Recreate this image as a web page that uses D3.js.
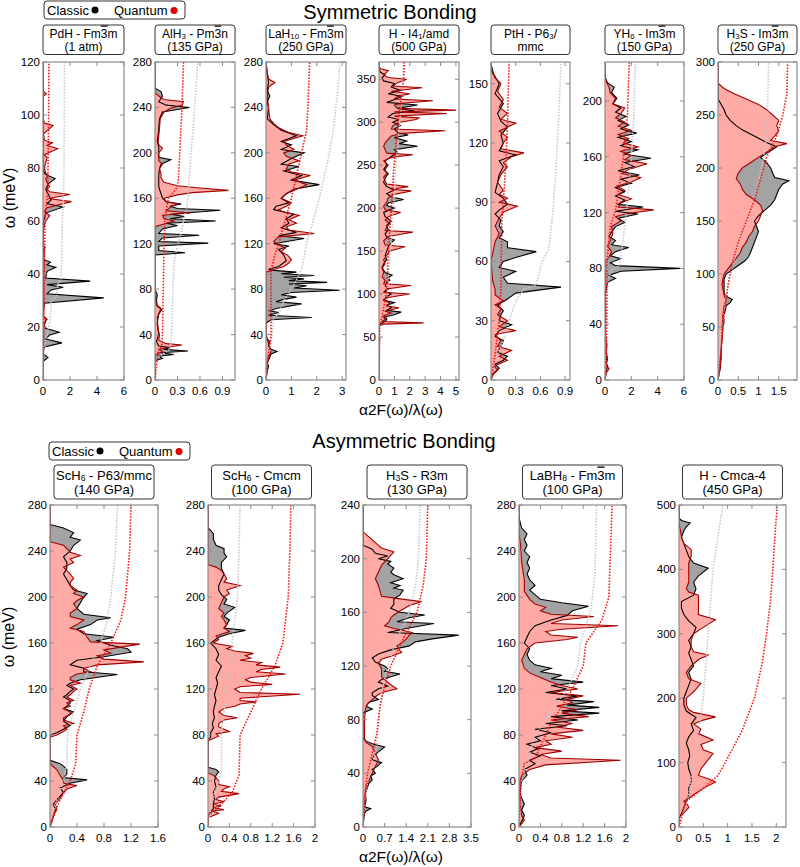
<!DOCTYPE html>
<html><head><meta charset="utf-8">
<script src="https://cdn.jsdelivr.net/npm/d3@7"></script>
<style>body{margin:0;background:#fff}</style>
</head><body>
<script>
// ---------- symmetric bonding (top row) ----------
var pdhClassic = [[0,0],[7,0],[8.5,0.37],[10,0],[12.5,0.1],[14,1.4],[15.5,0.2],[17,0.5],[18,1.2],[19.5,0.2],[21,0],[23,0.3],[24,0],[29,0.1],[31,4.5],[32.5,0.3],[34,0.6],[35,1.5],[36,0.3],[37.3,3.5],[38.5,0.2],[41,0.3],[42.5,0.95],[43.5,0.3],[44.5,0.55],[45.5,0],[49.5,0],[50,0.15],[51,0],[57,0],[58,0.1],[59,0],[63,0.2],[65.3,1.5],[66.5,0.3],[68,0.6],[70,0.4],[72,0.2],[74,0.4],[76,0.9],[77.5,0.2],[79,0],[120,0]];
var pdhQuantum = [[0,0],[20,0.05],[23,0.25],[24,0.05],[40,0.05],[50,0.1],[51,0],[58,0.05],[60,0.2],[62,0.5],[63.5,0.1],[65,0.3],[67.3,2.1],[68.5,0.4],[70,2.0],[71,0.5],[72,0.3],[73,0.5],[74.5,0.3],[76,0.2],[77.3,0.4],[78,0.2],[80,0.1],[84,0.3],[85,0.1],[87.3,1.1],[88.5,0.3],[89.5,0.7],[90.5,0.1],[93,0.05],[96,0.75],[97,0.1],[99,0],[107,0],[108,0.25],[109,0],[120,0]];
var pdhLamC = [[0,0],[8,0.03],[14,0.15],[18,0.35],[24,0.55],[30,0.6],[31.5,1.0],[36,1.1],[38,1.3],[44,1.38],[60,1.42],[66,1.5],[76,1.55],[120,1.6]];
var pdhLamQ = [[0,0],[20,0.05],[40,0.1],[60,0.15],[64,0.2],[68,0.3],[72,0.35],[90,0.4],[120,0.44]];

var alhClassic = [[0,0],[17,0],[19,0.1],[21,0.05],[22.5,0.25],[24,0.08],[25.5,0.44],[27,0.12],[28.5,0.2],[30,0.05],[34,0.02],[40,0.05],[50,0.03],[58,0.05],[62,0.09],[65,0.03],[70,0.02],[75,0.03],[80,0],[110,0],[112,0.4],[114,0.05],[118,0.05],[120.5,0.71],[122,0.05],[125,0.1],[127.5,0.59],[129,0.05],[133,0.1],[136,0.3],[138,0.15],[140,0.81],[142,0.2],[144,0.4],[146,0.2],[149.5,0.87],[151,0.3],[153,0.2],[155,0.35],[157,0.15],[160,0.1],[170,0.05],[180,0.05],[186,0.06],[190,0.08],[194,0.21],[196,0.05],[205,0.05],[210,0.03],[220,0.05],[230,0.06],[236,0.1],[240,0.46],[242,0.15],[245,0.05],[250,0.1],[254,0.08],[257,0],[280,0]];
var alhQuantum = [[0,0],[22,0],[25,0.1],[27,0.05],[29,0.2],[30.8,0.36],[32,0.15],[35,0.05],[40,0.06],[45,0.04],[55,0.03],[60,0.06],[63,0.08],[66,0.02],[75,0],[135,0],[137,0.1],[140,0.25],[142,0.12],[145,0.1],[147,0.47],[149,0.15],[152,0.2],[155,0.3],[157,0.15],[160,0.12],[163,0.3],[165,0.5],[167,0.98],[169,0.6],[171,0.3],[174,0.12],[178,0.08],[182,0.08],[186,0.06],[190,0.1],[193,0.05],[200,0.05],[204,0.1],[208,0.04],[215,0.05],[222,0.06],[230,0.07],[236,0.12],[239,0.2],[242,0.36],[245,0.38],[247,0.12],[250,0.05],[253,0],[280,0]];
var alhLamC = [[0,0],[18,0.01],[22,0.08],[26,0.18],[30,0.21],[40,0.22],[100,0.25],[110,0.27],[120,0.31],[130,0.35],[140,0.38],[150,0.42],[160,0.44],[200,0.48],[240,0.53],[280,0.57]];
var alhLamQ = [[0,0],[25,0.04],[30,0.09],[40,0.1],[120,0.12],[140,0.13],[150,0.15],[160,0.18],[168,0.28],[175,0.31],[200,0.33],[240,0.36],[280,0.38]];

var lahClassic = [[0,0],[8,0.05],[12,0.1],[15,0.05],[20,0.15],[23,0.2],[25,0.43],[27,0.2],[30,0.1],[34,0.15],[36,0.05],[40,0],[50,0],[53,0.2],[55,1.8],[57,0.1],[59.5,0.5],[61,0.15],[63,0.4],[67,1.4],[69,0.4],[71,0.7],[73,1.2],[75,0.6],[77,1.0],[79,2.9],[81,1.1],[83,1.6],[84.5,0.9],[86,2.4],[87.5,0.9],[89,1.5],[90.5,0.7],[92,1.9],[93.5,0.6],[95,1.2],[96.5,0.3],[97.5,0.1],[100,0.5],[105,0.8],[110,0.7],[115,0.5],[118,0.9],[120,0.3],[124.6,1.5],[127,0.5],[130,1.2],[134,0.6],[138,0.9],[142,0.8],[146,1.1],[150,0.3],[153,0.4],[156,0.9],[160,0.6],[164,0.8],[168,1.1],[172,2.1],[176,1.0],[180,1.4],[184,0.7],[188,1.3],[190,0.6],[195,1.0],[200,1.5],[203,0.6],[207,1.0],[210,0.6],[215,1.2],[220,0.6],[225,0.3],[230,0.05],[240,0.1],[245,0.05],[250,0.15],[255,0.05],[262,0.1],[270,0.05],[280,0]];
var lahQuantum = [[0,0],[10,0.02],[20,0.1],[25,0.2],[28,0.15],[32,0.1],[36,0.05],[40,0],[95,0],[97,0.3],[100,0.7],[103,0.9],[106,1.0],[110,0.85],[113,0.6],[116,0.75],[119,0.5],[122,0.3],[126,0.5],[129,1.9],[132,0.9],[135,0.8],[138,1.2],[141,0.9],[145,1.3],[148,0.7],[150,0.5],[153,0.8],[156,1.0],[160,0.6],[164,0.8],[168,1.2],[172,1.6],[176,1.1],[180,1.75],[183,1.0],[186,0.8],[190,0.9],[193,1.3],[197,0.8],[200,0.7],[203,1.1],[207,0.8],[210,0.7],[215,1.45],[218,0.9],[222,0.5],[226,0.3],[230,0.15],[240,0.1],[250,0.05],[258,0.1],[262,0.35],[265,0.1],[270,0.05],[280,0]];
var lahLamC = [[0,0],[20,0.05],[26,0.15],[40,0.25],[55,0.3],[58,0.5],[70,0.7],[80,1.0],[90,1.25],[97,1.4],[120,1.6],[140,1.85],[160,2.1],[180,2.3],[200,2.5],[220,2.65],[240,2.75],[260,2.85],[280,2.9]];
var lahLamQ = [[0,0],[20,0.07],[30,0.15],[40,0.2],[97,0.2],[110,0.35],[120,0.5],[140,0.75],[160,1.0],[180,1.2],[200,1.4],[220,1.6],[240,1.65],[280,1.72]];

var hiClassic = [[0,0],[45,0],[48,0.05],[50,0],[64,0],[67,0.3],[70,0.5],[73,0.3],[76,1.0],[79,1.45],[81,0.5],[84,0.8],[87,0.5],[90,1.0],[93,0.3],[97,0.5],[100,0.8],[103,0.4],[106,0.6],[110,0.4],[113,0.5],[116,0.7],[119,0.6],[122,0.85],[125,0.4],[128,0.3],[131,0.2],[135,0.3],[140,0.5],[145,0.4],[150,0.5],[155,0.6],[160,0.8],[163,1.0],[166,0.5],[170,0.4],[175,0.6],[180,0.5],[185,0.8],[190,0.4],[195,0.3],[200,1.0],[203,0.5],[206,0.6],[210,1.6],[213,0.8],[217,0.5],[221,1.0],[225,0.5],[230,0.3],[235,0.4],[240,0.6],[245,0.3],[250,0.5],[255,0.4],[260,0.8],[265,1.2],[268,1.0],[272,2.5],[275,1.3],[278,1.8],[282,1.0],[285,1.9],[288,1.2],[292,1.0],[296,1.4],[300,0.9],[303,1.3],[306,0.6],[310,0.9],[313,2.3],[316,1.2],[320,2.5],[323,0.5],[326,1.0],[330,1.5],[333,0.6],[337,1.4],[341,0.8],[345,1.0],[348,0.3],[352,0.2],[355,0.4],[358,0.1],[362,0],[370,0]];
var hiQuantum = [[0,0],[45,0],[47,0.05],[49,0],[63,0],[65,0.3],[66.5,2.9],[68,0.2],[72,0.5],[75,0.3],[78,0.8],[80,0.4],[84,1.3],[86,0.5],[90,0.7],[93,0.3],[96,0.6],[100,2.0],[102,0.3],[106,0.5],[110,2.1],[112,0.3],[116,0.4],[120,0.2],[125,0.3],[130,0.2],[135,0.4],[140,0.3],[145,0.5],[150,0.7],[155,1.7],[157,0.4],[162,0.3],[167,0.6],[172,2.2],[174,0.4],[178,0.5],[182,0.7],[186,0.4],[190,0.6],[195,1.4],[198,0.4],[202,0.3],[207,0.5],[212,0.6],[216,1.0],[220,2.1],[222,0.8],[225,1.9],[228,0.5],[232,0.4],[236,0.3],[240,0.5],[245,0.4],[250,0.6],[255,0.3],[259,0.8],[262,2.2],[264,0.5],[268,0.4],[272,0.3],[276,0.4],[280,0.6],[284,0.8],[287,1.5],[290,4.3],[292,0.8],[296,0.9],[300,1.4],[303,2.4],[305,2.6],[307,1.0],[310,4.4],[312,1.0],[314,5.0],[316,1.2],[320,1.0],[322,1.5],[325,3.5],[327,1.0],[330,1.2],[333,2.0],[336,0.8],[340,2.8],[342,0.9],[346,1.2],[350,1.8],[352,0.6],[355,0.3],[358,0.5],[360,0.6],[362,0.1],[365,0],[370,0]];
var hiLamC = [[0,0],[64,0.02],[80,0.3],[100,0.5],[150,0.75],[200,0.95],[250,1.1],[300,1.35],[350,1.55],[370,1.6]];
var hiLamQ = [[0,0],[64,0.05],[70,0.15],[100,0.48],[150,0.6],[200,0.8],[250,0.98],[300,1.24],[350,1.6],[370,1.65]];

var pthClassic = [[0,0],[3,0.02],[6,0.1],[8,0.05],[10,0.15],[12,0.2],[14,0.08],[17,0.12],[20,0.15],[22,0.05],[25,0.1],[28,0.25],[30,0.1],[33,0.12],[35,0.15],[38,0.08],[41,0.2],[44,0.3],[47,0.85],[49,0.2],[52,0.15],[55,0.3],[57,0.1],[60,0.15],[62,0.3],[65,0.55],[67,0.2],[70,0.2],[72,0.1],[75,0.15],[78,0.1],[81,0.12],[84,0.05],[86,0.1],[89,0.2],[92,0.15],[95,0.05],[100,0.08],[104,0.1],[108,0.15],[111,0.1],[114,0.3],[116,0.1],[120,0.15],[124,0.12],[128,0.2],[131,0.12],[135,0.08],[140,0.15],[145,0.05],[150,0.1],[155,0.03],[160,0]];
var pthQuantum = [[0,0],[3,0.03],[5,0.08],[7,0.04],[10,0.2],[12,0.1],[15,0.25],[17,0.08],[20,0.12],[23,0.05],[25,0.3],[27,0.1],[30,0.2],[33,0.08],[36,0.12],[38,0.05],[40,0.15],[43,0.05],[46,0.05],[50,0.02],[60,0],[70,0.05],[74,0.1],[78,0.05],[82,0.1],[85,0.15],[88,0.32],[90,0.1],[92,0.2],[94,0.1],[96,0.15],[100,0.08],[104,0.12],[108,0.2],[110,0.15],[113,0.25],[115,0.4],[117,0.12],[120,0.15],[123,0.2],[126,0.1],[130,0.3],[132,0.12],[135,0.2],[138,0.1],[142,0.15],[146,0.08],[150,0.12],[153,0.05],[157,0],[161,0]];
var pthLamC = [[0,0],[10,0.05],[20,0.15],[30,0.22],[40,0.3],[46,0.4],[48,0.55],[60,0.62],[66,0.7],[80,0.74],[100,0.78],[130,0.82],[161,0.85]];
var pthLamQ = [[0,0],[10,0.04],[20,0.07],[30,0.1],[45,0.12],[80,0.13],[90,0.15],[110,0.18],[130,0.2],[161,0.22]];

var yhClassic = [[0,0],[5,0.05],[10,0.2],[13,0.05],[16,0.15],[20,0.05],[25,0.1],[30,0.05],[40,0.03],[50,0.05],[60,0],[70,0.2],[73,0.8],[75,0.3],[78,1.2],[80,5.7],[82,0.8],[84,0.4],[87,1.2],[89,0.4],[92,0.8],[95,1.8],[97,0.5],[100,0.8],[103,0.3],[106,0.5],[110,0.8],[113,1.5],[116,1.0],[119,2.5],[121,0.8],[124,2.9],[126,1.0],[129,1.5],[132,0.8],[135,1.5],[138,0.8],[141,2.0],[144,1.2],[147,2.6],[150,1.0],[153,2.2],[156,1.5],[159,3.5],[162,1.4],[165,2.5],[168,1.2],[171,2.0],[174,1.0],[177,2.4],[180,1.2],[183,1.8],[186,1.0],[189,1.6],[192,0.8],[195,1.2],[198,0.6],[202,0.9],[206,0.5],[210,0.7],[213,0.2],[216,0.05],[220,0],[230,0]];
var yhQuantum = [[0,0],[5,0.1],[8,0.3],[11,0.1],[15,0.2],[20,0.1],[25,0.15],[30,0.05],[40,0.02],[60,0],[85,0],[88,0.3],[92,0.5],[96,0.2],[100,0.4],[105,0.6],[110,0.5],[114,1.2],[117,0.8],[119,1.5],[122,3.7],[124,1.0],[127,1.2],[130,2.0],[133,1.0],[136,1.5],[139,0.9],[142,2.0],[145,2.7],[148,1.3],[151,1.8],[155,3.2],[158,1.5],[161,2.0],[164,1.2],[167,2.5],[170,1.4],[173,1.8],[176,1.0],[179,2.0],[182,1.0],[185,1.5],[188,0.8],[191,1.2],[195,1.5],[198,0.6],[202,0.8],[206,0.4],[210,0.3],[214,0.1],[218,0],[230,0]];
var yhLamC = [[0,0],[10,0.05],[30,0.1],[70,0.15],[79,0.5],[82,1.1],[95,1.3],[110,1.5],[130,1.75],[160,2.0],[190,2.2],[230,2.3]];
var yhLamQ = [[0,0],[10,0.08],[30,0.12],[85,0.15],[110,0.4],[122,0.8],[140,1.1],[160,1.4],[190,1.7],[230,1.85]];

var h3sImClassic = [[0,0],[5,0.02],[10,0.05],[20,0.06],[30,0.08],[40,0.1],[50,0.12],[55,0.15],[60,0.12],[65,0.18],[70,0.2],[73,0.3],[76,0.35],[79,0.2],[82,0.15],[90,0.15],[95,0.15],[100,0.2],[104,0.35],[108,0.5],[112,0.65],[116,0.75],[120,0.8],[125,0.85],[130,0.9],[135,0.95],[140,1.0],[145,0.95],[150,0.9],[155,1.0],[160,1.15],[165,1.3],[170,1.4],[175,1.45],[180,1.5],[185,1.6],[188,1.75],[191,1.4],[195,1.35],[200,1.3],[205,1.2],[210,1.05],[215,1.25],[220,1.45],[224,1.2],[228,1.0],[232,0.8],[236,0.6],[240,0.45],[245,0.3],[250,0.2],[255,0.15],[260,0.08],[265,0],[300,0]];
var h3sImQuantum = [[0,0],[10,0.05],[20,0.08],[30,0.08],[40,0.1],[50,0.1],[60,0.12],[70,0.15],[75,0.2],[80,0.15],[90,0.1],[95,0.12],[100,0.15],[105,0.25],[110,0.35],[115,0.45],[120,0.55],[125,0.6],[130,0.7],[135,0.75],[140,0.85],[145,0.9],[150,1.0],[155,1.05],[160,1.1],[165,1.05],[170,0.9],[175,0.7],[180,0.6],[185,0.55],[190,0.45],[195,0.5],[200,0.6],[205,0.8],[210,1.0],[215,1.2],[220,1.4],[223,1.7],[226,1.3],[230,1.4],[235,1.5],[240,1.45],[245,1.5],[250,1.35],[255,1.2],[260,1.0],[265,0.7],[270,0.4],[275,0.15],[280,0],[300,0]];
var h3sImLamC = [[0,0],[40,0.08],[80,0.2],[100,0.3],[120,0.45],[140,0.62],[160,0.8],[180,0.95],[200,1.08],[220,1.17],[250,1.22],[300,1.25]];
var h3sImLamQ = [[0,0],[30,0.08],[60,0.15],[90,0.25],[110,0.35],[130,0.5],[150,0.7],[170,0.9],[190,1.05],[210,1.2],[230,1.45],[250,1.6],[270,1.7],[300,1.72]];

// ---------- asymmetric bonding (bottom row) ----------
var schPClassic = [[0,0],[5,0.02],[10,0.05],[15,0.08],[20,0.05],[25,0.12],[30,0.2],[34,0.15],[38,0.3],[41,0.55],[43,0.2],[46,0.25],[50,0.25],[53,0.2],[55,0.15],[58,0],[80,0],[82,0.1],[85,0.2],[88,0.3],[92,0.2],[96,0.25],[100,0.35],[103,0.2],[105,0.25],[108,0.3],[110,0.3],[113,0.2],[115,0.25],[118,0.3],[120,0.35],[123,0.25],[125,0.3],[128,0.45],[132.6,1.0],[135,0.5],[138,0.5],[141,0.3],[145,0.4],[148,0.8],[152,1.2],[155,1.15],[158,0.9],[162,0.7],[165,0.95],[168,0.5],[172,0.4],[176,0.6],[180,0.7],[182,0.9],[185,0.5],[190,0.4],[195,0.45],[200,0.5],[203,0.55],[206,0.35],[210,0.3],[215,0.25],[220,0.2],[225,0.25],[230,0.25],[235,0.2],[240,0.3],[245,0.35],[249.5,0.45],[252,0.3],[256,0.35],[260,0.2],[263,0],[280,0]];
var schPQuantum = [[0,0],[5,0.03],[10,0.05],[15,0.1],[20,0.08],[25,0.15],[30,0.2],[33,0.25],[36,0.4],[38,0.2],[40,0.2],[45,0.15],[50,0.1],[55,0],[78,0],[80,0.1],[83,0.2],[85,0.25],[88,0.2],[90,0.35],[93,0.2],[95,0.2],[98,0.3],[100,0.3],[103,0.2],[105,0.3],[108,0.25],[110,0.35],[113,0.25],[115,0.3],[118,0.35],[120,0.4],[123,0.3],[125,0.45],[128,0.3],[130,0.3],[133,0.4],[135,0.6],[138,0.5],[141,0.7],[143.6,1.39],[146,0.8],[149,0.7],[151,0.9],[154,0.8],[156,1.0],[159,1.33],[161,0.6],[165,0.55],[170,0.5],[173,0.3],[176,0.4],[180,0.5],[183,0.3],[186,0.3],[190,0.4],[194,0.35],[197,0.4],[200,0.5],[203,0.35],[206,0.4],[210,0.3],[213,0.3],[216,0.35],[220,0.3],[223,0.25],[226,0.2],[230,0.35],[233,0.3],[236,0.45],[239,0.3],[242,0.25],[245,0.2],[248,0],[280,0]];
var schPLamC = [[0,0],[20,0.08],[40,0.2],[55,0.25],[80,0.26],[100,0.35],[120,0.45],[140,0.6],[160,0.75],[180,0.85],[200,0.9],[240,0.97],[280,1.0]];
var schPLamQ = [[0,0],[20,0.12],[40,0.3],[55,0.38],[80,0.4],[100,0.5],[120,0.58],[140,0.7],[160,0.9],[180,1.05],[200,1.12],[240,1.18],[280,1.2]];

var schCClassic = [[0,0],[10,0],[13,0.05],[16,0.1],[20,0.1],[25,0.12],[30,0.1],[35,0.15],[40,0.12],[45,0.15],[48,0.2],[50,0.15],[52,0],[76,0],[78,0.05],[82,0.05],[86,0.1],[90,0.08],[95,0.12],[100,0.1],[105,0.12],[110,0.15],[115,0.12],[120,0.15],[125,0.18],[130,0.15],[135,0.2],[140,0.25],[145,0.15],[150,0.2],[155,0.15],[160,0.05],[165,0.2],[168,0.4],[171,0.7],[173,0.3],[176,0.35],[180,0.4],[183,0.3],[186,0.35],[191,0.5],[194,0.3],[198,0.35],[202,0.25],[206,0.2],[210,0.2],[215,0.25],[220,0.3],[225,0.25],[230,0.25],[235,0.35],[238,0.3],[242,0.3],[245,0.15],[250,0.1],[255,0.1],[258,0.05],[260,0],[280,0]];
var schCQuantum = [[0,0],[8,0],[10,0.1],[12,0.2],[14,0.08],[15,0.3],[17,0.1],[18,0.25],[20,0.1],[22,0.3],[24,0.15],[26,0.2],[29,0.58],[31,0.25],[33,0.3],[35,0.4],[37,0.2],[40,0.2],[43,0.15],[45,0.1],[47,0],[75,0],[77,0.1],[79,0.2],[81,0.15],[83,0.4],[85,0.3],[87,0.2],[90,0.2],[93,0.3],[95,0.55],[97,0.3],[100,0.2],[103,0.3],[105,0.5],[107,0.6],[108.8,0.9],[110,0.6],[112,0.6],[115.5,1.72],[117,0.6],[120,0.5],[122,0.6],[124,1.2],[126,0.8],[128,0.7],[130,0.8],[133,1.45],[135,0.9],[137,1.0],[139,1.35],[141,0.9],[143,1.0],[145,0.6],[147,0.8],[149,0.7],[151,0.85],[153,0.5],[155,0.35],[157,0.45],[160,0.1],[163,0.2],[166,0.15],[170,0.4],[173,0.3],[176,0.35],[180,0.3],[183,0.25],[186,0.3],[190,0.2],[195,0.25],[200,0.3],[203,0.4],[206,0.35],[210,0.6],[213,0.3],[216,0.35],[220,0.3],[223,0.25],[226,0.15],[228,0],[280,0]];
var schCLamC = [[0,0],[15,0.05],[30,0.12],[40,0.2],[50,0.25],[80,0.25],[120,0.35],[160,0.45],[200,0.55],[240,0.58],[280,0.6]];
var schCLamQ = [[0,0],[10,0],[20,0.25],[30,0.45],[45,0.58],[80,0.6],[100,0.8],[120,1.0],[140,1.25],[160,1.4],[200,1.5],[240,1.53],[280,1.55]];

var h3sRClassic = [[0,0],[5,0.02],[10,0.05],[12,0.1],[13.7,0.25],[15,0.05],[20,0.1],[25,0.08],[30,0.15],[33,0.2],[35,0.3],[38,0.25],[40,0.4],[43,0.3],[45,0.45],[48,0.6],[50,0.3],[53,0.35],[56,0.5],[59.7,0.7],[62,0.3],[64,0.1],[66,0],[85,0],[88,0.3],[90,0.1],[93,0.2],[95,0.5],[98,0.3],[100,0.3],[103,0.5],[105,0.8],[108,0.5],[110,0.6],[112,0.9],[114,1.2],[116,0.7],[118,0.8],[120,0.7],[123,0.4],[126,0.3],[129,0.5],[132,0.9],[135,1.5],[138,1.7],[140,2.2],[143,3.1],[145,0.8],[148,1.4],[151.7,2.3],[153,1.1],[156,1.5],[158,2.0],[160,1.2],[163,0.9],[166,1.0],[170,1.0],[173,1.2],[176.6,1.3],[178,1.0],[180,1.2],[182,0.9],[185,1.3],[188,1.0],[190,0.9],[193,1.0],[196,0.8],[198,0.9],[200,0.5],[202,0.8],[204,0.4],[207,0.3],[210,0],[240,0]];
var h3sRQuantum = [[0,0],[10,0.03],[20,0.05],[30,0.1],[35,0.2],[40,0.3],[45,0.4],[50,0.5],[55,0.4],[60,0.3],[63,0.1],[66,0.05],[80,0.05],[88,0.08],[92,0.15],[95,0.3],[98,0.45],[100,0.6],[103,1.1],[106,0.9],[108,0.8],[112,0.6],[115,0.6],[118,0.6],[122,0.5],[125,0.6],[128,1.0],[130,1.25],[133,1.15],[135,1.1],[138,1.3],[140,1.4],[143,1.5],[145,1.6],[148,1.0],[150,0.7],[153,0.85],[156,0.9],[158,1.0],[161,1.2],[165,1.5],[168,1.9],[170,1.2],[172,0.6],[176,0.55],[180,0.5],[185,0.4],[190,0.5],[195,0.6],[200,0.8],[205,1.0],[208,0.6],[212,0.4],[216,0.2],[220,0],[240,0]];
var h3sRLamC = [[0,0],[20,0.05],[40,0.2],[60,0.45],[80,0.5],[100,0.6],[120,0.8],[140,1.1],[160,1.5],[180,1.7],[200,1.8],[240,1.85]];
var h3sRLamQ = [[0,0],[20,0.03],[40,0.15],[60,0.35],[70,0.45],[90,0.55],[100,0.65],[120,0.9],[140,1.3],[160,1.75],[180,1.95],[200,2.05],[240,2.1]];

var labhClassic = [[0,0],[5,0.05],[10,0.1],[15,0.05],[20,0.1],[25,0.05],[30,0.02],[40,0.05],[45,0.15],[50,0.1],[55,0.3],[58,0.2],[62,0.4],[65,0.2],[68,0.35],[72,0.15],[75,0.4],[78,0.3],[82,0.6],[85,0.3],[88,0.9],[90,0.5],[93,1.1],[96,0.6],[99,1.5],[101,0.8],[104,1.5],[106,0.9],[109,1.4],[111,0.7],[114,1.1],[117,0.5],[120,0.9],[123,0.6],[126,1.2],[129,0.6],[132,0.8],[135,0.4],[138,0.6],[141,0.3],[145,0.2],[150,0.15],[155,0.2],[160,0.1],[165,0.15],[170,0.2],[175,0.3],[180,0.6],[184,0.9],[188,1.0],[192,1.3],[195,0.8],[198,0.4],[202,0.3],[206,0.2],[210,0.3],[215,0.2],[220,0.15],[225,0.2],[230,0.15],[235,0.2],[240,0.1],[245,0.15],[250,0.1],[255,0.15],[260,0.05],[265,0.02],[270,0],[280,0]];
var labhQuantum = [[0,0],[3,0.05],[6,0.1],[10,0.05],[20,0.02],[40,0.02],[45,0.05],[50,0.2],[54,0.5],[58,1.9],[60,0.6],[63,0.4],[66,0.8],[69,0.3],[72,0.6],[75,0.5],[78,1.0],[81,0.6],[84,1.2],[87,0.7],[90,1.0],[93,0.6],[96,1.3],[99,0.8],[102,1.1],[105,0.7],[108,1.0],[111,0.9],[114,1.2],[117,0.6],[120,1.1],[123,0.8],[126,0.6],[130,0.4],[134,0.2],[138,0.1],[145,0.05],[150,0.1],[155,0.15],[160,0.3],[163,0.9],[165,1.1],[167,0.6],[170,0.5],[172,0.8],[175,1.85],[177,0.6],[180,0.8],[183,1.4],[185,0.6],[188,0.4],[191,0.5],[194,0.3],[198,0.2],[205,0.1],[215,0.1],[230,0.05],[245,0.03],[255,0],[280,0]];
var labhLamC = [[0,0],[40,0.05],[80,0.3],[100,0.6],[120,0.9],[140,1.1],[160,1.15],[190,1.35],[220,1.42],[280,1.45]];
var labhLamQ = [[0,0],[40,0.03],[55,0.1],[60,0.3],[90,0.6],[120,1.0],[140,1.2],[160,1.25],[180,1.55],[200,1.68],[280,1.74]];

var hcClassic = [[0,0],[15,0],[20,0.05],[30,0.1],[40,0.15],[50,0.2],[60,0.2],[70,0.25],[80,0.25],[90,0.2],[100,0.18],[110,0.22],[120,0.2],[130,0.15],[140,0.2],[150,0.3],[160,0.25],[170,0.35],[180,0.15],[190,0.1],[200,0.1],[210,0.15],[220,0.2],[230,0.25],[240,0.2],[250,0.3],[260,0.25],[270,0.2],[280,0.25],[290,0.2],[300,0.3],[310,0.35],[320,0.2],[330,0.1],[340,0.05],[350,0.05],[360,0.3],[370,0.35],[380,0.3],[390,0.4],[402,0.6],[410,0.3],[420,0.2],[430,0.15],[440,0.1],[450,0.05],[460,0.1],[466,0.15],[472,0.23],[476,0.05],[480,0],[500,0]];
var hcQuantum = [[0,0],[15,0],[22,0.1],[30,0.2],[34,0.18],[40,0.1],[50,0.3],[60,0.5],[70,0.75],[75,0.6],[80,0.4],[90,0.45],[100,0.55],[114,0.7],[120,0.5],[128,0.45],[135,0.7],[145,0.4],[152,0.45],[160,0.3],[166,0.5],[171,0.75],[178,0.3],[182,0.2],[190,0.15],[200,0.15],[210,0.3],[223,0.45],[230,0.2],[240,0.15],[250,0.25],[260,0.4],[267,0.6],[272,0.3],[280,0.25],[290,0.25],[300,0.3],[310,0.5],[322,0.75],[330,0.4],[340,0.4],[350,0.4],[360,0.4],[365,0.2],[370,0.15],[380,0.2],[390,0.2],[400,0.2],[410,0.2],[420,0.25],[431,0.25],[440,0.1],[450,0.05],[460,0.03],[470,0],[500,0]];
var hcLamC = [[0,0],[50,0.2],[100,0.3],[150,0.4],[200,0.5],[250,0.55],[300,0.6],[350,0.65],[400,0.7],[450,0.8],[500,0.9]];
var hcLamQ = [[0,0],[30,0.1],[40,0.15],[60,0.5],[80,0.8],[100,0.95],[150,1.3],[200,1.55],[250,1.7],[300,1.8],[350,1.88],[400,1.93],[450,1.97],[500,2.02]];

// titles, axis ranges, tick labels
var topTitles = [["PdH - Fm~{3}m","(1 atm)"],["AlH_{3} - Pm~{3}n","(135 GPa)"],["LaH_{10} - Fm~{3}m","(250 GPa)"],
  ["H - I4_{1}/amd","(500 GPa)"],["PtH - P6_{3}/","mmc"],["YH_{6} - Im~{3}m","(150 GPa)"],["H_{3}S - Im~{3}m","(250 GPa)"]];
var topYMax = [120, 280, 280, 370, 161, 228, 300];
var topYTicks = [[0,20,40,60,80,100,120],[0,40,80,120,160,200,240,280],[0,40,80,120,160,200,240,280],
  [0,50,100,150,200,250,300,350],[0,30,60,90,120,150],[0,40,80,120,160,200],[0,50,100,150,200,250,300]];
var topXMax = [6, 1.067, 3.15, 5.2, 0.96, 6, 1.95];
var topXTicks = [[0,2,4,6],[0,0.3,0.6,0.9],[0,1,2,3],[0,1,2,3,4,5],[0,0.3,0.6,0.9],[0,2,4,6],[0,0.5,1,1.5]];
var topSeries = [[pdhClassic,pdhQuantum,pdhLamC,pdhLamQ],[alhClassic,alhQuantum,alhLamC,alhLamQ],
  [lahClassic,lahQuantum,lahLamC,lahLamQ],[hiClassic,hiQuantum,hiLamC,hiLamQ],[pthClassic,pthQuantum,pthLamC,pthLamQ],
  [yhClassic,yhQuantum,yhLamC,yhLamQ],[h3sImClassic,h3sImQuantum,h3sImLamC,h3sImLamQ]];

var botTitles = [["ScH_{6} - P63/mmc","(140 GPa)"],["ScH_{6} - Cmcm","(100 GPa)"],["H_{3}S - R3m","(130 GPa)"],
  ["LaBH_{8} - Fm~{3}m","(100 GPa)"],["H - Cmca-4","(450 GPa)"]];
var botYMax = [280, 280, 240, 280, 500];
var botYTicks = [[0,40,80,120,160,200,240,280],[0,40,80,120,160,200,240,280],[0,40,80,120,160,200,240],
  [0,40,80,120,160,200,240,280],[0,100,200,300,400,500]];
var botXMax = [1.6, 2, 3.5, 2, 2.2];
var botXTicks = [[0,0.4,0.8,1.2,1.6],[0,0.4,0.8,1.2,1.6,2],[0,0.7,1.4,2.1,2.8,3.5],[0,0.4,0.8,1.2,1.6,2],[0,0.5,1,1.5,2]];
var botSeries = [[schPClassic,schPQuantum,schPLamC,schPLamQ],[schCClassic,schCQuantum,schCLamC,schCLamQ],
  [h3sRClassic,h3sRQuantum,h3sRLamC,h3sRLamQ],[labhClassic,labhQuantum,labhLamC,labhLamQ],[hcClassic,hcQuantum,hcLamC,hcLamQ]];

var width = 800, height = 867;
var font = "'Liberation Sans', Arial, Helvetica, sans-serif";

var svg = d3.select("body").append("svg")
    .attr("width", width)
    .attr("height", height)
    .style("font-family", font);

// layout of the two rows (pixel positions)
var topX = [[43,124],[155,235],[266,346],[379,459],[491,570],[605,684],[718,797]];
var botX = [[50,158],[208,315],[363,471],[519,626],[679,786]];

var clipId = 0;

function richText(sel, str, size) {
  var parts = str.split(/(_\{[^}]*\}|~\{[^}]*\})/).filter(function(s) { return s.length; });
  var shift = 0;
  parts.forEach(function(p) {
    var t = sel.append("tspan");
    if (p[0] === "_") {
      t.text(p.slice(2, -1)).style("font-size", (size * 0.66) + "px").attr("dy", 1.5 - shift);
      shift = 1.5;
    } else if (p[0] === "~") {
      t.text(p.slice(2, -1)).style("text-decoration", "overline").attr("dy", -shift);
      shift = 0;
    } else {
      t.text(p).attr("dy", -shift);
      shift = 0;
    }
  });
}

function drawPanel(x0, x1, y0, y1, yMax, yTicks, xMax, xTicks, series, title, box) {
  var x = d3.scaleLinear().domain([0, xMax]).range([x0, x1]);
  var y = d3.scaleLinear().domain([0, yMax]).range([y1, y0]);
  var g = svg.append("g");
  var id = "clip" + (clipId++);
  g.append("clipPath").attr("id", id).append("rect")
      .attr("x", x0).attr("y", y0).attr("width", x1 - x0).attr("height", y1 - y0);
  var plot = g.append("g").attr("clip-path", "url(#" + id + ")");

  var area = d3.area().y(function(d) { return y(d[0]); }).x0(x(0)).x1(function(d) { return x(d[1]); });
  var line = d3.line().y(function(d) { return y(d[0]); }).x(function(d) { return x(d[1]); });

  plot.append("path").attr("d", area(series[0])).attr("fill", "#a3a3a3");
  plot.append("path").attr("d", area(series[1])).attr("fill", "#ffaaa5");
  plot.append("path").attr("d", line(series[0])).attr("fill", "none").attr("stroke", "#000").attr("stroke-width", 1.1);
  plot.append("path").attr("d", line(series[1])).attr("fill", "none").attr("stroke", "#a00000").attr("stroke-width", 1.1);
  plot.append("path").attr("d", line(series[2])).attr("fill", "none").attr("stroke", "#c8c8c8")
      .attr("stroke-width", 1.6).attr("stroke-dasharray", "1.5,1.5");
  plot.append("path").attr("d", line(series[3])).attr("fill", "none").attr("stroke", "#ff1010")
      .attr("stroke-width", 1.6).attr("stroke-dasharray", "1.5,1.5");

  // frame and mirrored ticks
  g.append("rect").attr("x", x0).attr("y", y0).attr("width", x1 - x0).attr("height", y1 - y0)
      .attr("fill", "none").attr("stroke", "#8c8c8c").attr("stroke-width", 1.2);
  yTicks.forEach(function(t) {
    var yy = y(t);
    g.append("line").attr("x1", x0).attr("x2", x0 + 4).attr("y1", yy).attr("y2", yy).attr("stroke", "#8c8c8c");
    g.append("line").attr("x1", x1).attr("x2", x1 - 4).attr("y1", yy).attr("y2", yy).attr("stroke", "#8c8c8c");
    g.append("text").attr("x", x0 - 3).attr("y", yy + 4).attr("text-anchor", "end")
        .style("font-size", "11.5px").text(t);
  });
  xTicks.forEach(function(t) {
    var xx = x(t);
    g.append("line").attr("x1", xx).attr("x2", xx).attr("y1", y1).attr("y2", y1 - 4).attr("stroke", "#8c8c8c");
    g.append("line").attr("x1", xx).attr("x2", xx).attr("y1", y0).attr("y2", y0 + 4).attr("stroke", "#8c8c8c");
    g.append("text").attr("x", xx).attr("y", y1 + 15).attr("text-anchor", "middle")
        .style("font-size", "11.5px").text(t);
  });

  // header box
  var cx = (x0 + x1) / 2;
  g.append("rect").attr("x", cx - box.w / 2).attr("y", box.y).attr("width", box.w).attr("height", box.h)
      .attr("rx", 3).attr("fill", "#fff").attr("stroke", "#333").attr("stroke-width", 1);
  title.forEach(function(s, i) {
    var t = g.append("text").attr("x", cx).attr("y", box.y + box.l1 + i * box.dl)
        .attr("text-anchor", "middle").style("font-size", box.fs + "px");
    richText(t, s, box.fs);
  });
}

function legend(x, y) {
  var g = svg.append("g");
  g.append("rect").attr("x", x).attr("y", y).attr("width", 141).attr("height", 18).attr("rx", 3)
      .attr("fill", "#fff").attr("stroke", "#333");
  g.append("text").attr("x", x + 3).attr("y", y + 13.5).style("font-size", "13px").text("Classic");
  g.append("circle").attr("cx", x + 51).attr("cy", y + 9).attr("r", 3.5).attr("fill", "#000");
  g.append("text").attr("x", x + 70).attr("y", y + 13.5).style("font-size", "13px").text("Quantum");
  g.append("circle").attr("cx", x + 130).attr("cy", y + 9.5).attr("r", 3.5).attr("fill", "#e00000");
}

topX.forEach(function(p, i) {
  drawPanel(p[0], p[1], 62, 380, topYMax[i], topYTicks[i], topXMax[i], topXTicks[i], topSeries[i], topTitles[i],
    {w: p[1] - p[0], y: 25, h: 29.5, l1: 12.5, dl: 13.5, fs: 12});
});
botX.forEach(function(p, i) {
  drawPanel(p[0], p[1], 505, 827, botYMax[i], botYTicks[i], botXMax[i], botXTicks[i], botSeries[i], botTitles[i],
    {w: 100, y: 465, h: 34, l1: 14.5, dl: 14.5, fs: 13});
});

legend(44, 1);
legend(49, 442);

svg.append("text").attr("x", 390).attr("y", 19).attr("text-anchor", "middle").style("font-size", "20px").text("Symmetric Bonding");
svg.append("text").attr("x", 404).attr("y", 448).attr("text-anchor", "middle").style("font-size", "20px").text("Asymmetric Bonding");
svg.append("text").attr("x", 401).attr("y", 415).attr("text-anchor", "middle").style("font-size", "15.5px").text("\u03b12F(\u03c9)/\u03bb(\u03c9)");
svg.append("text").attr("x", 401).attr("y", 862).attr("text-anchor", "middle").style("font-size", "15.5px").text("\u03b12F(\u03c9)/\u03bb(\u03c9)");
svg.append("text").attr("transform", "translate(15,198) rotate(-90)").attr("text-anchor", "middle").style("font-size", "16px").text("\u03c9 (meV)");
svg.append("text").attr("transform", "translate(14,637) rotate(-90)").attr("text-anchor", "middle").style("font-size", "16px").text("\u03c9 (meV)");
</script>
</body></html>
